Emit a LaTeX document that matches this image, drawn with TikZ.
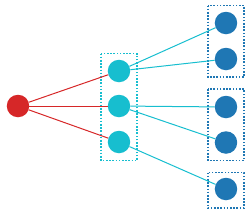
\documentclass[tikz,border=0pt]{standalone}
\definecolor{cred}{HTML}{D62728}
\definecolor{cteal}{HTML}{17BECF}
\definecolor{cblue}{HTML}{1F77B4}
\tikzset{
  dot/.style={circle, inner sep=0pt, minimum size=22.5pt, fill=#1, draw=none},
  grp/.style={draw=#1, line width=1.1pt, dash pattern=on 1.6pt off 1.6pt},
  lnk/.style={draw=#1, line width=1pt},
}
\begin{document}
\begin{tikzpicture}[x=1pt,y=-1pt]
\useasboundingbox (0,0) rectangle (250,215);
\draw[grp=cteal] (101,53.5) rectangle (137,160.5);
\draw[grp=cblue] (208,5.5) rectangle (244,77);
\draw[grp=cblue] (208,89) rectangle (244,160.5);
\draw[grp=cblue] (208,172.5) rectangle (244,208);
\node[dot=cred] (r) at (18,106) {};
\node[dot=cteal] (m1) at (119,71) {};
\node[dot=cteal] (m2) at (119,106) {};
\node[dot=cteal] (m3) at (119,142) {};
\node[dot=cblue] (b1) at (226,23) {};
\node[dot=cblue] (b2) at (226,59) {};
\node[dot=cblue] (b3) at (226,107) {};
\node[dot=cblue] (b4) at (226,142.5) {};
\node[dot=cblue] (b5) at (226,189) {};
\draw[lnk=cred] (r) -- (m1);
\draw[lnk=cred] (r) -- (m2);
\draw[lnk=cred] (r) -- (m3);
\draw[lnk=cteal] (m1) -- (b1);
\draw[lnk=cteal] (m1) -- (b2);
\draw[lnk=cteal] (m2) -- (b3);
\draw[lnk=cteal] (m2) -- (b4);
\draw[lnk=cteal] (m3) -- (b5);
\end{tikzpicture}
\end{document}
